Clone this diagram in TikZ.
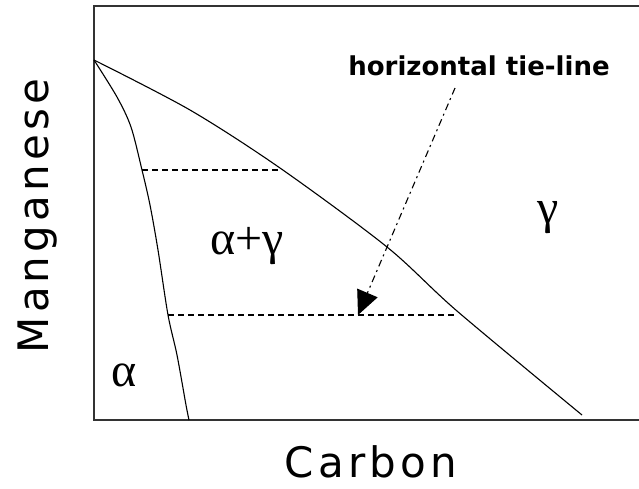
\documentclass[tikz,border=0pt]{standalone}
\usepackage{fontspec}
\usepackage{tikz}
\usetikzlibrary{arrows.meta,calc}
\newfontfamily\axisfont[LetterSpace=10]{DejaVu Sans}
\newfontfamily\notefont{DejaVu Sans}
\newfontfamily\greekfont{Liberation Serif}

\begin{document}
\begin{tikzpicture}[x=1pt,y=-1pt]
% Define styles
\tikzstyle{axislabel}=[font=\axisfont\fontsize{42}{42}\selectfont, inner sep=0pt]
\tikzstyle{phase}=[font=\greekfont\fontsize{48}{48}\selectfont, inner sep=0pt]
\tikzstyle{note}=[font=\notefont\bfseries\fontsize{26}{26}\selectfont, inner sep=0pt]
\tikzstyle{boundary}=[line width=1.1pt, line join=round]
\tikzstyle{tieline}=[line width=1.1pt, dash pattern=on 6pt off 4pt]

\useasboundingbox (0,0) rectangle (639,488);

% Frame
\draw[line width=2pt, black!80] (639,6) -- (94,6) -- (94,420) -- (639,420);

% Phase boundaries
\draw[boundary] plot[smooth, tension=0.5] coordinates
  {(94,60) (190,110) (280,168) (387,247) (457,311) (582,415)};
\draw[boundary] plot[smooth, tension=0.5] coordinates
  {(94,60) (117,97) (131,127) (142,170) (150,205) (158,250) (168,315) (177,355) (186,405) (189,420)};

% Tie-lines
\coordinate (t1a) at (142,170);
\coordinate (t1b) at (280,170);
\coordinate (t2a) at (168,315);
\coordinate (t2b) at (457,315);
\draw[tieline] (t1a) -- (t1b);
\draw[tieline] (t2a) -- (t2b);

% Phase labels
\node[phase] (a) at (124,375) {α};
\node[phase] (ag) at (247,246) {α+γ};
\node[phase] (g) at (548,218) {γ};

% Axis labels
\node[axislabel] (carbon) at (371,462) {Carbon};
\node[axislabel, rotate=90] (mn) at (38,216) {Manganese};

% Pointer
\node[note] (tie) at (479,66) {horizontal tie-line};
\coordinate (tail) at (455,88);
\coordinate (tip) at (358,315);
\draw[line width=1.1pt, dash pattern=on 7pt off 4pt on 2pt off 4pt,
  -{Triangle[length=24pt, width=22pt]}] (tail) -- (tip);

\end{tikzpicture}
\end{document}
